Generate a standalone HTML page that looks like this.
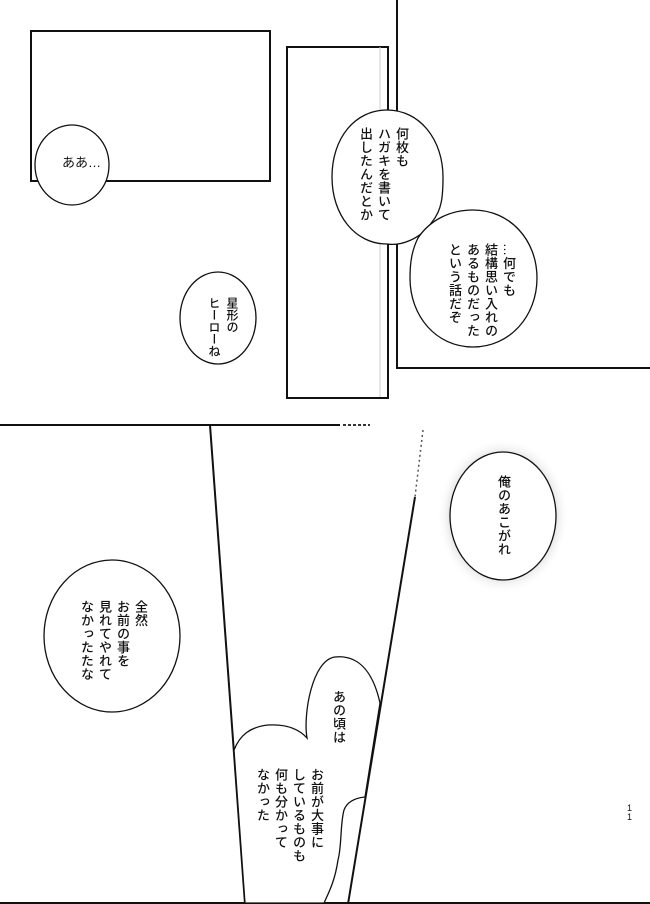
<!DOCTYPE html>
<html><head><meta charset="utf-8"><style>
html,body{margin:0;padding:0;background:#fff;}
#p{position:relative;width:650px;height:904px;overflow:hidden;background:#fff;}
svg{position:absolute;left:0;top:0;}
.v{position:absolute;writing-mode:vertical-rl;font-family:"Liberation Sans","Noto Sans CJK JP",sans-serif;font-size:13px;line-height:18px;color:#111;white-space:nowrap;letter-spacing:0.5px;font-weight:500;}
.h{position:absolute;font-family:"Liberation Sans","Noto Sans CJK JP",sans-serif;font-size:13px;color:#111;}
</style></head><body><div id="p">
<svg width="650" height="904" viewBox="0 0 650 904">
<defs><radialGradient id="g"><stop offset="0.75" stop-color="#bbb" stop-opacity="0.6"/><stop offset="1" stop-color="#fff" stop-opacity="0"/></radialGradient></defs>
<g fill="none" stroke="#111" stroke-width="2">
<rect x="31" y="31" width="239" height="150"/>
<rect x="287" y="47" width="101" height="351"/>
<polyline points="397,0 397,368 650,368"/>
<line x1="0" y1="425" x2="340" y2="425"/>
<line x1="210" y1="425" x2="245" y2="904"/>
<line x1="415" y1="497" x2="348" y2="904"/>
<line x1="0" y1="903" x2="650" y2="903"/>
</g>
<line x1="343" y1="425" x2="370" y2="425" stroke="#333" stroke-width="2" stroke-dasharray="3,2"/>
<line x1="423" y1="430" x2="415" y2="497" stroke="#555" stroke-width="1.5" stroke-dasharray="2,3"/>
<line x1="380" y1="397" x2="380" y2="47" stroke="#ccc" stroke-width="1"/>
<g fill="#fff" stroke="#111" stroke-width="1.3">
<ellipse cx="72" cy="165" rx="37" ry="40"/>
<ellipse cx="218" cy="318" rx="38" ry="46"/>
<path d="M432,222 C420,240 400,246 387,244 C355,244 332,215 332,177 C332,138 355,110 387,110 C420,110 443,140 443,177 C443,196 442,210 432,222 Z"/>
<path d="M418,238 C430,220 450,210 473,210 C510,210 537,240 537,278 C537,316 510,347 473,347 C436,347 410,316 410,278 C410,262 412,250 418,238 Z"/>
</g>
<ellipse cx="503" cy="516" rx="66" ry="78" fill="url(#g)"/>
<g fill="#fff" stroke="#111" stroke-width="1.3">
<ellipse cx="503" cy="516" rx="53" ry="64"/>
<ellipse cx="112" cy="636" rx="68" ry="76"/>
<path d="M234,750 C240,735 250,727 268,725 C285,724 298,728 307,738 C303,715 312,660 335,657 C355,655 372,667 380,703 L365,797 C355,798 347,802 344,810 C340,825 342,845 338,860 C335,880 330,890 324,903 L245,903 Z"/>
</g>
</svg>
<div class="h" style="left:62px;top:152px;">ああ…</div>
<div class="v" style="left:356px;top:127px;">何枚も<br>ハガキを書いて<br>出したんだとか</div>
<div class="v" style="left:445px;top:243px;">…何でも<br>結構思い入れの<br>あるものだった<br>という話だぞ</div>
<div class="v" style="left:205px;top:297px;font-size:12px;letter-spacing:0;">星形の<br>ヒーローね</div>
<div class="v" style="left:494px;top:475px;">俺のあこがれ</div>
<div class="v" style="left:77px;top:600px;">全然<br>お前の事を<br>見れてやれて<br>なかったたな</div>
<div class="v" style="left:329px;top:690px;">あの頃は</div>
<div class="v" style="left:253px;top:768px;">お前が大事に<br>しているものも<br>何も分かって<br>なかった</div>
<div class="h" style="left:627px;top:804px;font-size:9px;line-height:9px;">1<br>1</div>
</div></body></html>
